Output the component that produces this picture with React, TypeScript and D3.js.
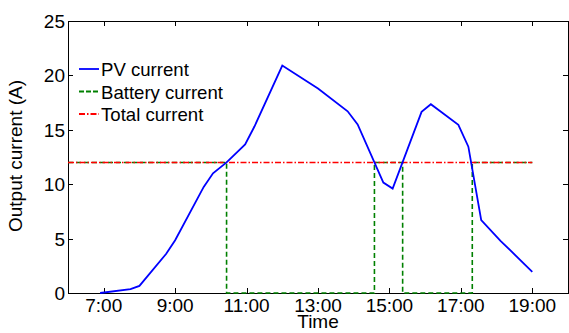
import { useEffect, useRef } from 'react';
import * as d3 from 'd3';

// PV current (A), hours of day
const pvHours = [6.9, 7.75, 8.0, 8.75, 9.0, 9.8, 10.06, 10.44, 10.96, 11.22, 12.0, 13.0, 13.83, 14.11, 14.83, 15.09, 15.9, 16.16, 16.93, 17.21, 17.57, 18.11, 19.0];
const pvValues = [0, 0.35, 0.65, 3.6, 4.85, 9.75, 11.0, 12.0, 13.65, 15.3, 20.9, 18.8, 16.7, 15.5, 10.15, 9.6, 16.65, 17.35, 15.45, 13.45, 6.7, 4.8, 1.95];

// Battery current: on at 12 A while PV is below, off otherwise
const batHours = [6.0, 10.44, 10.44, 14.58, 14.58, 15.37, 15.37, 17.32, 17.32, 19.0];
const batValues = [12, 12, 0, 0, 12, 12, 0, 0, 12, 12];

const totalHours = [6.0, 19.0];
const totalValues = [12, 12];

const xTicks = [7, 9, 11, 13, 15, 17, 19];
const yTicks = [0, 5, 10, 15, 20, 25];
const legendLabels = ['PV current', 'Battery current', 'Total current'];

const App = () => {
  const svgRef = useRef<SVGSVGElement>(null);

  useEffect(() => {
    const svg = d3.select(svgRef.current);
    svg.selectAll('*').remove();

    const width = 569;
    const height = 333;
    const left = 68, right = 568, top = 21, bottom = 293;
    const font = 'Arial, "Liberation Sans", sans-serif';
    const fs = '19px';

    const x = d3.scaleLinear().domain([6, 20]).range([left, right]);
    const y = d3.scaleLinear().domain([0, 25]).range([bottom, top]);

    svg.attr('width', width).attr('height', height);

    const line = d3.line<[number, number]>()
      .x(d => x(d[0]))
      .y(d => y(d[1]));

    const g = svg.append('g');

    // box
    g.append('rect')
      .attr('x', left + 0.5).attr('y', top + 0.5)
      .attr('width', right - left).attr('height', bottom - top)
      .attr('fill', 'none').attr('stroke', '#000').attr('stroke-width', 1);

    // ticks (inward, all four sides)
    const tl = 5;
    xTicks.forEach(t => {
      const px = Math.round(x(t)) + 0.5;
      g.append('line').attr('x1', px).attr('x2', px).attr('y1', bottom).attr('y2', bottom - tl).attr('stroke', '#000');
      g.append('line').attr('x1', px).attr('x2', px).attr('y1', top).attr('y2', top + tl).attr('stroke', '#000');
      g.append('text')
        .attr('x', x(t)).attr('y', bottom + 19)
        .attr('text-anchor', 'middle')
        .style('font-family', font).style('font-size', fs).style('fill', '#000')
        .text(`${t}:00`);
    });
    yTicks.forEach(t => {
      const py = Math.round(y(t)) + 0.5;
      g.append('line').attr('x1', left).attr('x2', left + tl).attr('y1', py).attr('y2', py).attr('stroke', '#000');
      g.append('line').attr('x1', right).attr('x2', right - tl).attr('y1', py).attr('y2', py).attr('stroke', '#000');
      g.append('text')
        .attr('x', left - 3).attr('y', y(t) + 7)
        .attr('text-anchor', 'end')
        .style('font-family', font).style('font-size', fs).style('fill', '#000')
        .text(t);
    });

    // series
    const total = totalHours.map((h, i) => [h, totalValues[i]] as [number, number]);
    const bat = batHours.map((h, i) => [h, batValues[i]] as [number, number]);
    const pv = pvHours.map((h, i) => [h, pvValues[i]] as [number, number]);

    g.append('path').attr('d', line(bat)).attr('fill', 'none')
      .attr('stroke', '#008000').attr('stroke-width', 1.6).attr('stroke-dasharray', '5,3');
    g.append('path').attr('d', line(total)).attr('fill', 'none')
      .attr('stroke', '#ff0000').attr('stroke-width', 1.6).attr('stroke-dasharray', '6,2,1.5,2');
    g.append('path').attr('d', line(pv)).attr('fill', 'none')
      .attr('stroke', '#0000ff').attr('stroke-width', 1.8);

    // legend
    const styles = [
      { color: '#0000ff', dash: null },
      { color: '#008000', dash: '5,2' },
      { color: '#ff0000', dash: '6,2,1.5,2' },
    ];
    legendLabels.forEach((lab, i) => {
      const ly = 69 + i * 22.5;
      const l = g.append('line').attr('x1', 79).attr('x2', 99).attr('y1', ly).attr('y2', ly)
        .attr('stroke', styles[i].color).attr('stroke-width', 1.8);
      if (styles[i].dash) l.attr('stroke-dasharray', styles[i].dash);
      g.append('text').attr('x', 101).attr('y', ly + 7)
        .style('font-family', font).style('font-size', '18.6px').style('fill', '#000')
        .text(lab);
    });

    // axis labels
    g.append('text')
      .attr('transform', `translate(22,156) rotate(-90)`)
      .attr('text-anchor', 'middle')
      .style('font-family', font).style('font-size', fs).style('fill', '#000')
      .text('Output current (A)');
    g.append('text')
      .attr('x', (left + right) / 2).attr('y', 328)
      .attr('text-anchor', 'middle')
      .style('font-family', font).style('font-size', fs).style('fill', '#000')
      .text('Time');
  }, []);

  return (
    <div style={{ position: 'absolute', left: 0, top: 0 }}>
      <svg ref={svgRef}></svg>
    </div>
  );
};

export default App;
